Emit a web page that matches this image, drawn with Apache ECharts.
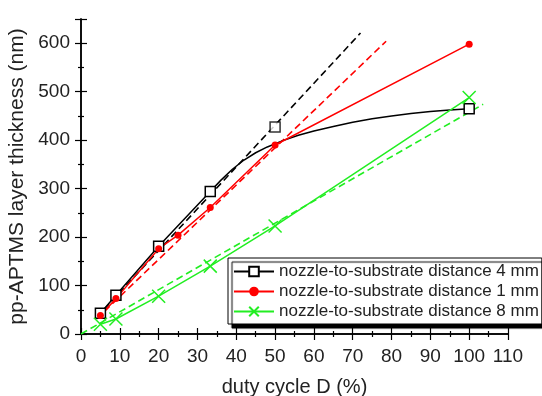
<!DOCTYPE html>
<html>
<head>
<meta charset="utf-8">
<script src="https://cdn.jsdelivr.net/npm/echarts@6/dist/echarts.min.js"></script>
<style>
  html, body { margin: 0; padding: 0; background: #fff; }
  #chart { width: 542px; height: 396px; }
</style>
</head>
<body>
<div id="chart"></div>
<script>
// measured points
const duty4 = [5, 9, 20, 33.3, 50, 100];
const thick4 = [43, 80, 181, 294, 427, 465];
const duty1 = [5, 9, 20, 25, 33.3, 50, 100];
const thick1 = [38, 73, 176, 204, 261, 390, 598];
const duty8 = [5, 9, 20, 33.3, 50, 100];
const thick8 = [20, 31, 78, 140, 223, 488];

// solid guide curve for 4 mm between 33.3 % and 100 %
const curve4X = [36, 39, 42, 45, 48, 52, 56, 60, 65, 70, 75, 80, 85, 90, 95];
const curve4Y = [317, 340, 359, 374, 386, 399, 410, 419, 428, 437, 444, 450, 455, 459, 462];

// dashed linear fits, start and end points
const fit4X = [4, 72];
const fit4Y = [34, 621];
const fit1X = [4, 78.6];
const fit1Y = [31, 604];
const fit8X = [0, 103.6];
const fit8Y = [0, 474];

const names = [
  "nozzle-to-substrate distance 4 mm",
  "nozzle-to-substrate distance 1 mm",
  "nozzle-to-substrate distance 8 mm"
];

const font = "Liberation Sans, Arial, sans-serif";
const xSym = "path://M0,0L10,10M10,0L0,10";
const green = "#22ee22";

function zip(xs, ys) {
  return xs.map((x, i) => [x, ys[i]]);
}

// black line: measured points except the 50 % one, plus the guide curve
const black = [];
for (let i = 0; i < 4; i++) black.push([duty4[i], thick4[i]]);
curve4X.forEach((x, i) => black.push({ value: [x, curve4Y[i]], symbol: "none" }));
black.push([duty4[5], thick4[5]]);

const chart = echarts.init(document.getElementById("chart"));

const axisLine = { lineStyle: { color: "#000", width: 1.5 } };
const tick = { inside: false, length: 6, lineStyle: { color: "#000", width: 1.2 } };
const minor = { show: true, splitNumber: 2, length: 3, lineStyle: { color: "#000", width: 1.2 } };
const lbl = { fontFamily: font, fontSize: 19, color: "#222" };

function fitLine(xs, ys, color) {
  return {
    type: "line",
    data: zip(xs, ys),
    symbol: "none",
    silent: true,
    lineStyle: { color: color, width: 1.6, type: [7, 4] },
    z: 1
  };
}

chart.setOption({
  backgroundColor: "#fff",
  animation: false,
  grid: { left: 81, right: 34, top: 19, bottom: 62, outerBoundsMode: "none", containLabel: false },
  legend: {
    data: names,
    orient: "vertical",
    left: 228,
    top: 258,
    itemWidth: 40,
    itemHeight: 12,
    itemGap: 3,
    padding: [5, 3, 4, 5],
    backgroundColor: "#fff",
    borderColor: "#000",
    borderWidth: 1,
    borderRadius: 0,
    shadowColor: "#000",
    shadowBlur: 1,
    shadowOffsetX: 4,
    shadowOffsetY: 4,
    textStyle: { fontFamily: font, fontSize: 17, color: "#222" }
  },
  xAxis: [
    {
      type: "value", min: 0, max: 110, interval: 10,
      name: "duty cycle D (%)", nameLocation: "middle", nameGap: 43,
      nameTextStyle: { fontFamily: font, fontSize: 20, color: "#222" },
      axisLine: axisLine, axisTick: tick, minorTick: minor,
      axisLabel: Object.assign({ margin: 13 }, lbl),
      splitLine: { show: false }
    },
    {
      type: "value", position: "top", min: 0, max: 110, interval: 10,
      axisLine: axisLine, axisTick: tick, minorTick: minor,
      axisLabel: { show: false }, splitLine: { show: false }
    }
  ],
  yAxis: [
    {
      type: "value", min: 0, max: 650, interval: 100,
      name: "pp-APTMS layer thickness (nm)", nameLocation: "middle", nameGap: 47,
      nameTextStyle: { fontFamily: font, fontSize: 21, color: "#222" },
      axisLine: axisLine, axisTick: tick, minorTick: minor,
      axisLabel: Object.assign({ margin: 11, showMaxLabel: false }, lbl),
      splitLine: { show: false }
    },
    {
      type: "value", position: "right", min: 0, max: 650, interval: 100,
      axisLine: axisLine, axisTick: tick, minorTick: minor,
      axisLabel: { show: false }, splitLine: { show: false }
    }
  ],
  series: [
    fitLine(fit4X, fit4Y, "#000"),
    fitLine(fit1X, fit1Y, "#ff0000"),
    fitLine(fit8X, fit8Y, green),
    {
      name: names[0],
      type: "line",
      data: black,
      symbol: "rect",
      symbolSize: 10,
      lineStyle: { color: "#000", width: 1.5 },
      itemStyle: { color: "#fff", borderColor: "#000", borderWidth: 1.5 },
      z: 3
    },
    {
      name: names[0],
      type: "scatter",
      data: [[duty4[4], thick4[4]]],
      symbol: "rect",
      symbolSize: 10,
      itemStyle: { color: "#fff", borderColor: "#000", borderWidth: 1.5 },
      z: 4
    },
    {
      name: names[1],
      type: "line",
      data: zip(duty1, thick1),
      symbol: "circle",
      symbolSize: 7,
      lineStyle: { color: "#ff0000", width: 1.5 },
      itemStyle: { color: "#ff0000" },
      z: 3
    },
    {
      name: names[2],
      type: "line",
      data: zip(duty8, thick8),
      symbol: xSym,
      symbolSize: 13,
      lineStyle: { color: green, width: 1.5 },
      itemStyle: { color: "none", borderColor: green, borderWidth: 1.5 },
      z: 3
    }
  ]
});
</script>
</body>
</html>
